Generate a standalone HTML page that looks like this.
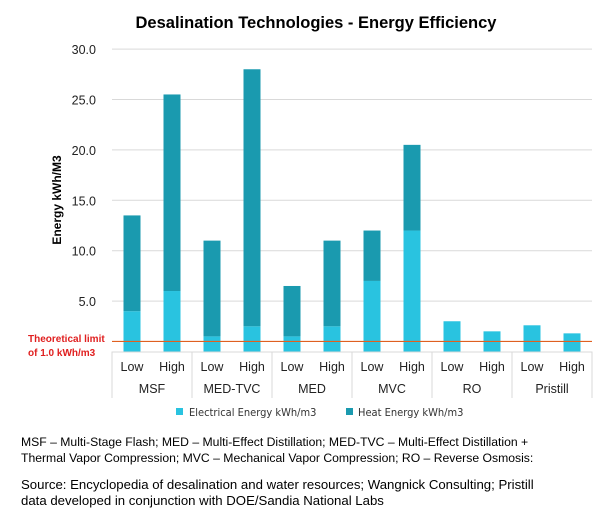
<!DOCTYPE html>
<html><head><meta charset="utf-8"><style>
body{margin:0;background:#fff;width:606px;height:508px;overflow:hidden;font-family:"Liberation Sans",Arial,sans-serif}
.t{position:absolute;white-space:nowrap;color:#000}
</style></head><body>
<svg id="chart" width="606" height="508" style="position:absolute;left:0;top:0" xmlns="http://www.w3.org/2000/svg">
<text x="316" y="28" text-anchor="middle" font-size="16.5" font-weight="bold" font-family="Liberation Sans, sans-serif">Desalination Technologies - Energy Efficiency</text>
<text transform="translate(61,200) rotate(-90)" text-anchor="middle" font-size="12" font-weight="bold" font-family="Liberation Sans, sans-serif">Energy kWh/M3</text>
<g id="grid"></g><g id="bars"></g><g id="axis"></g>
<line id="limit" x1="112" x2="592" stroke="#e06020" stroke-width="1.2"/>
<text x="28" y="342" font-size="10" font-weight="bold" fill="#e02020" font-family="Liberation Sans, sans-serif">Theoretical limit</text>
<text x="28" y="356" font-size="10" font-weight="bold" fill="#e02020" font-family="Liberation Sans, sans-serif">of 1.0 kWh/m3</text>
<g>
<rect x="176" y="408" width="7" height="7" fill="#29c3e0"/>
<text x="189" y="416" font-size="11" fill="#333" font-family="DejaVu Sans Condensed, Liberation Sans, sans-serif">Electrical Energy  kWh/m3</text>
<rect x="346" y="408" width="7" height="7" fill="#1a9aaf"/>
<text x="358" y="416" font-size="11" fill="#333" font-family="DejaVu Sans Condensed, Liberation Sans, sans-serif">Heat Energy kWh/m3</text>
</g>
</svg>
<div class="t" style="left:21px;top:434px;font-size:12.2px;line-height:16px">MSF – Multi-Stage Flash; MED – Multi-Effect Distillation; MED-TVC – Multi-Effect Distillation +<br>Thermal Vapor Compression; MVC – Mechanical Vapor Compression; RO – Reverse Osmosis:</div>
<div class="t" style="left:21px;top:477px;font-size:13.2px;line-height:16px">Source: Encyclopedia of desalination and water resources; Wangnick Consulting; Pristill<br>data developed in conjunction with DOE/Sandia National Labs</div>
<script>
const groups=["MSF","MED-TVC","MED","MVC","RO","Pristill"];
const levels=["Low","High"];
const electrical=[4,6,1.5,2.5,1.5,2.5,7,12,3,2,2.6,1.8];
const heat=[9.5,19.5,9.5,25.5,5,8.5,5,8.5,0,0,0,0];
const yTicks=[5,10,15,20,25,30];
const yTickLabels=["5.0","10.0","15.0","20.0","25.0","30.0"];
const limitValue=1.0;
const NS="http://www.w3.org/2000/svg";
const L=112,R=592,Y0=351.5,PX=10.08;
const n=electrical.length,slot=(R-L)/n,bw=17;
const y=v=>Y0-v*PX;
const x=i=>L+slot*(i+0.5);
function mk(tag,a,parent){const e=document.createElementNS(NS,tag);for(const k in a)e.setAttribute(k,a[k]);parent.appendChild(e);return e;}
const grid=document.getElementById('grid'),bars=document.getElementById('bars'),axis=document.getElementById('axis');
yTicks.forEach((t,i)=>{
 const g=mk('line',{x1:L,x2:R,y1:y(t),y2:y(t),stroke:'#d9d9d9','stroke-width':1},grid);
 
 
 const tx=mk('text',{x:96,y:y(t)+5,'text-anchor':'end','font-size':12.5,fill:'#222','font-family':'Liberation Sans, sans-serif'},grid);
 tx.textContent=yTickLabels[i];
 
 
});
electrical.forEach((v,i)=>{
 const b=mk('rect',{x:x(i)-bw/2,y:y(v),width:bw,height:v*PX,fill:'#29c3e0'},bars);
 
 
 if(heat[i]>0){
  const h=mk('rect',{x:x(i)-bw/2,y:y(v+heat[i]),width:bw,height:heat[i]*PX,fill:'#1a9aaf'},bars);
  
  
 }
 const lt=mk('text',{x:x(i),y:371,'text-anchor':'middle','font-size':12.5,fill:'#222','font-family':'Liberation Sans, sans-serif'},axis);
 lt.textContent=levels[i%2];
 
 
});
const ax=mk('line',{x1:L,x2:R,y1:Y0+0.5,y2:Y0+0.5,stroke:'#d9d9d9'},axis);


for(let g=0;g<=groups.length;g++){
 const xx=L+g*slot*2;
 const s=mk('line',{x1:xx,x2:xx,y1:Y0,y2:398,stroke:'#d9d9d9'},axis);
 
 
 if(g<groups.length){
  const gt=mk('text',{x:xx+slot,y:393,'text-anchor':'middle','font-size':12.5,fill:'#222','font-family':'Liberation Sans, sans-serif'},axis);
  gt.textContent=groups[g];
  
  
 }
}
const lim=document.getElementById('limit');lim.setAttribute('y1',y(limitValue));lim.setAttribute('y2',y(limitValue));
</script>
</body></html>
